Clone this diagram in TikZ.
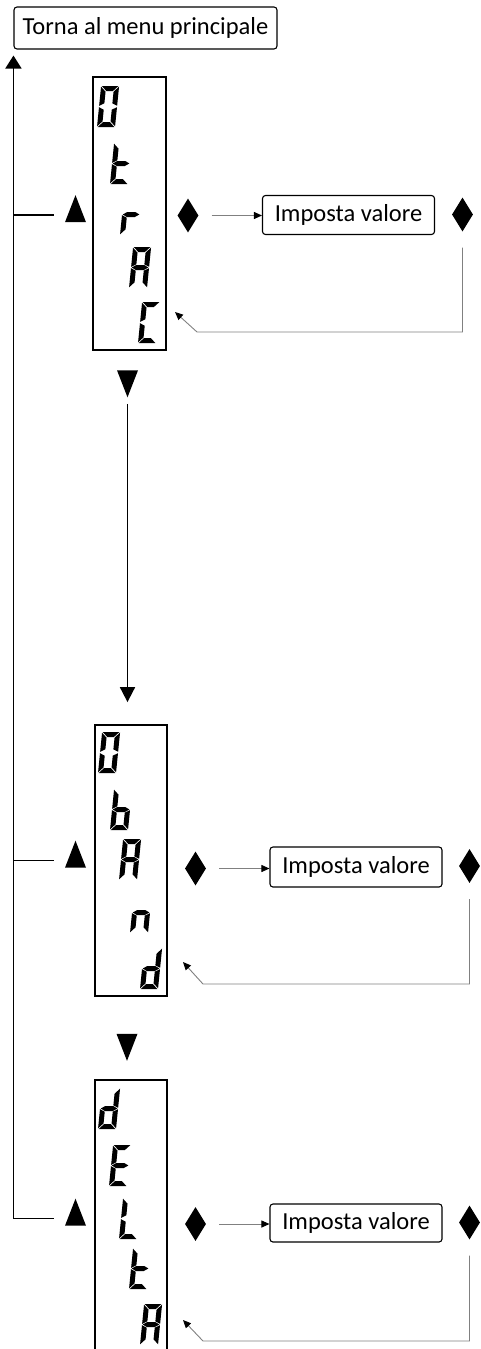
\documentclass[tikz,border=0pt]{standalone}
\usepackage{fontspec}
\setmainfont{Carlito}
\usetikzlibrary{arrows.meta,shapes.geometric}

% segments of a slanted seven segment digit (18 x 41)
\newcommand{\lcdsega}{\fill (0.7,41) -- (17.3,41) -- (12.3,36) -- (5.7,36) -- cycle;}
\newcommand{\lcdsegb}{\fill (18,40.3) -- (13,35.3) -- (13,23.7) -- (18,21.2) -- cycle;}
\newcommand{\lcdsegc}{\fill (18,0.7) -- (13,5.7) -- (13,17.3) -- (18,19.8) -- cycle;}
\newcommand{\lcdsegd}{\fill (0.7,0) -- (17.3,0) -- (12.3,5) -- (5.7,5) -- cycle;}
\newcommand{\lcdsege}{\fill (0,0.7) -- (5,5.7) -- (5,17.3) -- (0,19.8) -- cycle;}
\newcommand{\lcdsegf}{\fill (0,40.3) -- (5,35.3) -- (5,23.7) -- (0,21.2) -- cycle;}
\newcommand{\lcdsegg}{\fill (0.7,20.5) -- (5,23) -- (13,23) -- (17.3,20.5) -- (13,18) -- (5,18) -- cycle;}
% \lcd{x}{y}{segments}: digit with its lower left corner at (x,y)
\newcommand{\lcd}[3]{%
  \begin{scope}[shift={(#1,#2)},x={(1pt,0pt)},y={(0.1pt,1pt)}]
    \foreach \s in {#3}{\csname lcdseg\s\endcsname}
  \end{scope}}

\begin{document}
\begin{tikzpicture}[x=1pt,y=-1pt,
    font=\fontsize{24.5}{28}\selectfont,
    display/.style={draw,line width=1.8pt,minimum width=72pt,inner sep=0pt},
    keyup/.style={isosceles triangle,isosceles triangle stretches,shape border rotate=90,
      fill,inner sep=0pt,minimum width=21pt,minimum height=27pt},
    keydown/.style={keyup,shape border rotate=270},
    keyset/.style={diamond,fill,inner sep=0pt,minimum width=21pt,minimum height=34pt},
    setbox/.style={draw,rounded corners=3pt,line width=1.1pt,minimum width=172pt,
      minimum height=39pt,inner sep=0pt},
    rail/.style={line width=1.8pt},
    flow/.style={gray,line width=0.9pt,-{Triangle[length=8pt,width=7pt,black]}},
    back/.style={flow}]
  \clip (0,0) rectangle (480,1349);

  \node[setbox,minimum width=263pt,minimum height=42pt] (menu) at (145.5,28) {Torna al menu principale};

  % first parameter
  \node[display,minimum width=73pt,minimum height=273pt] (disp1) at (129.5,213.5) {};
  \node[keyup] (up1) at (75.5,215) {};
  \node[keyset] (key1) at (188,215.5) {};
  \node[setbox] (set1) at (348.5,215) {Imposta valore};
  \node[keyset] (ok1) at (462.5,214.5) {};
  \node[keydown] (down1) at (127.5,377.5) {};
  \lcd{97}{127}{a,b,c,d,e,f}
  \lcd{110}{184}{d,e,f,g}
  \lcd{120}{235}{e,g}
  \lcd{129}{288}{a,b,c,e,f,g}
  \lcd{138}{343}{a,d,e,f}

  % second parameter
  \node[display,minimum height=271pt] (disp2) at (131,860.5) {};
  \node[keyup] (up2) at (75.5,860.5) {};
  \node[keyset] (key2) at (195.5,868.5) {};
  \node[setbox,minimum height=40pt] (set2) at (356,867) {Imposta valore};
  \node[keyset] (ok2) at (469.5,866) {};
  \node[keydown] (down2) at (127,1041) {};
  \lcd{98}{773}{a,b,c,d,e,f}
  \lcd{110}{830}{c,d,e,f,g}
  \lcd{119}{880}{a,b,c,e,f,g}
  \lcd{130}{933}{c,e,g}
  \lcd{140}{989}{b,c,d,e,g}

  % third parameter
  \node[display,minimum height=272pt] (disp3) at (131,1216) {};
  \node[keyup] (up3) at (75.5,1218.5) {};
  \node[keyset] (key3) at (195.5,1224) {};
  \node[setbox,minimum height=38pt] (set3) at (356,1223) {Imposta valore};
  \node[keyset] (ok3) at (469.5,1222.5) {};
  \lcd{98}{1129}{b,c,d,e,g}
  \lcd{109}{1186}{a,d,e,f,g}
  \lcd{119}{1239}{d,e,f}
  \lcd{129}{1289}{d,e,f,g}
  \lcd{140}{1345}{a,b,c,e,f,g}

  % way back to the menu
  \draw[rail,shorten <=14pt,shorten >=6pt,-{Triangle[length=13pt,width=16pt]}]
    (up3.west) -| (menu.south west);
  \draw[rail,shorten <=14pt] (up1.west) -- (up1 -| menu.south west);
  \draw[rail,shorten <=14pt] (up2.west) -- (up2 -| menu.south west);

  % next parameter
  \draw[rail,shorten <=6pt,shorten >=22pt,-{Triangle[length=15pt,width=15pt]}]
    (down1.south) -- (down1 |- disp2.north);

  % edit and confirm
  \draw[flow,shorten <=13pt] (key1.east) -- (key1.east -| set1.west);
  \draw[flow,shorten <=13pt] (key2.east) -- (key2.east -| set2.west);
  \draw[flow,shorten <=13pt] (key3.east) -- (key3.east -| set3.west);

  \coordinate (in1) at (175,312);
  \coordinate (in2) at (183,962);
  \coordinate (in3) at (183,1320);
  \draw[back,shorten <=16pt] (ok1.south) |- ([xshift=22pt,yshift=-20pt]in1) -- (in1);
  \draw[back,shorten <=16pt] (ok2.south) |- ([xshift=20pt,yshift=-22pt]in2) -- (in2);
  \draw[back,shorten <=16pt] (ok3.south) |- ([xshift=20pt,yshift=-21pt]in3) -- (in3);
\end{tikzpicture}
\end{document}
